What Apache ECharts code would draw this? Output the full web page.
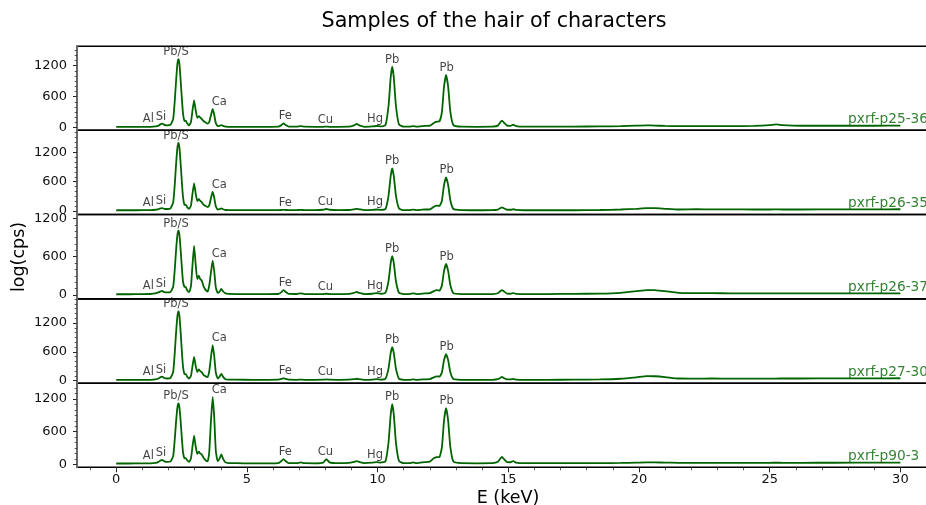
<!DOCTYPE html>
<html>
<head>
<meta charset="utf-8">
<script src="https://cdn.jsdelivr.net/npm/echarts@6/dist/echarts.min.js"></script>
<style>
  html, body { margin: 0; padding: 0; background: #fff; }
  #chart { width: 926px; height: 505px; }
</style>
</head>
<body>
<div id="chart"></div>
<script>
// Shared energy grid (keV) for all spectra
const energyKeV = [
  0.0, 0.5, 1.0, 1.3, 1.5, 1.62, 1.7, 1.76, 1.84, 1.95, 2.08, 2.18,
  2.24, 2.29, 2.34, 2.38, 2.42, 2.47, 2.52, 2.56,
  2.61, 2.66, 2.72, 2.79, 2.86, 2.92, 2.98, 3.04, 3.10, 3.16, 3.21, 3.27, 3.34, 3.42, 3.50,
  3.56, 3.62, 3.69, 3.75, 3.81, 3.88, 3.95, 4.02, 4.09, 4.18, 4.30,
  4.6, 5.2, 5.8, 6.2, 6.32, 6.40, 6.48, 6.6, 6.9, 7.06, 7.2, 7.6, 7.92, 8.04, 8.16, 8.5, 8.9, 9.1, 9.2, 9.3, 9.5,
  9.8, 9.97, 10.12, 10.3, 10.42, 10.5, 10.56, 10.62, 10.7, 10.82, 11.0,
  11.22, 11.36, 11.5, 11.8, 12.0, 12.15, 12.26, 12.37, 12.46, 12.54, 12.62, 12.70, 12.78, 12.9, 13.2,
  13.8, 14.4, 14.6, 14.7, 14.76, 14.83, 14.95, 15.08, 15.19, 15.3, 15.6, 16.5,
  17.5, 18.5, 19.3, 19.9, 20.3, 20.6, 21.0, 21.5, 22.2, 22.8, 23.5, 24.4, 25.0, 25.25, 25.5, 26.2, 27.5, 29.0, 30.0
];

const counts_p25_36 = [
  15, 15, 16, 18, 25, 40, 70, 80, 55, 45, 60, 170,
  520, 900, 1230, 1324, 1230, 880, 500, 260,
  130, 135, 80, 45, 110, 340, 530, 340, 190, 226, 200, 170, 130, 100, 80,
  110, 230, 362, 250, 90, 30, 35, 52, 35, 20, 18,
  18, 17, 17, 20, 50, 85, 55, 22, 20, 32, 20, 18, 18, 22, 18, 18, 20, 45, 72, 45, 18,
  25, 33, 25, 50, 430, 970, 1181, 970, 430, 60, 20,
  20, 32, 20, 35, 40, 90, 116, 125, 300, 790, 1020, 790, 320, 50, 20,
  18, 20, 40, 110, 135, 100, 40, 35, 58, 30, 20, 20,
  22, 25, 30, 40, 45, 42, 35, 30, 32, 30, 30, 35, 50, 66, 50, 38, 38, 38, 40
];

const counts_p26_35 = [
  15, 15, 16, 18, 25, 40, 55, 60, 45, 40, 55, 175,
  540, 950, 1290, 1394, 1290, 930, 520, 270,
  125, 130, 75, 45, 110, 360, 565, 360, 200, 245, 210, 180, 130, 100, 80,
  115, 250, 394, 270, 95, 30, 35, 55, 35, 20, 18,
  18, 17, 17, 18, 20, 24, 20, 18, 18, 22, 18, 18, 25, 40, 25, 18, 20, 35, 45, 35, 18,
  22, 30, 22, 40, 320, 715, 871, 715, 320, 50, 18,
  18, 28, 18, 30, 35, 85, 110, 105, 210, 530, 688, 530, 225, 40, 18,
  15, 18, 30, 60, 75, 55, 25, 25, 35, 22, 15, 15,
  15, 20, 30, 45, 60, 58, 45, 30, 35, 33, 32, 30, 30, 32, 30, 30, 32, 33, 35
];

const counts_p26_37 = [
  12, 12, 13, 16, 25, 40, 58, 63, 45, 40, 50, 130,
  400, 700, 940, 1008, 940, 680, 380, 200,
  130, 125, 70, 45, 140, 480, 768, 480, 250, 303, 250, 230, 140, 80, 52,
  150, 340, 538, 370, 120, 35, 50, 94, 55, 25, 18,
  15, 14, 14, 16, 45, 78, 50, 18, 16, 25, 15, 15, 16, 20, 16, 15, 18, 35, 47, 33, 15,
  20, 30, 20, 35, 225, 500, 611, 500, 220, 35, 15,
  15, 25, 15, 25, 30, 60, 75, 70, 150, 375, 486, 375, 160, 30, 15,
  13, 15, 28, 62, 78, 58, 22, 20, 30, 18, 13, 15,
  18, 22, 35, 60, 78, 76, 60, 35, 30, 28, 27, 25, 25, 27, 25, 25, 25, 26, 27
];

const counts_p27_30 = [
  15, 15, 16, 18, 28, 45, 75, 83, 55, 45, 60, 185,
  580, 1000, 1340, 1449, 1340, 970, 540, 270,
  140, 135, 80, 45, 100, 310, 497, 310, 180, 236, 200, 180, 120, 90, 75,
  200, 470, 739, 510, 170, 45, 80, 139, 80, 30, 22,
  20, 18, 18, 20, 35, 50, 35, 20, 18, 22, 18, 18, 20, 28, 20, 18, 20, 30, 40, 30, 18,
  22, 30, 22, 40, 260, 575, 698, 575, 255, 40, 18,
  18, 28, 18, 28, 33, 70, 90, 85, 170, 425, 553, 425, 180, 35, 18,
  16, 18, 30, 62, 77, 55, 25, 25, 35, 22, 16, 18,
  20, 25, 40, 70, 95, 92, 75, 45, 42, 45, 43, 42, 42, 44, 45, 45, 47, 48, 50
];

const counts_p90_3 = [
  15, 15, 16, 18, 25, 45, 72, 79, 55, 45, 55, 150,
  460, 780, 1040, 1119, 1040, 760, 420, 210,
  110, 115, 70, 45, 110, 330, 525, 330, 190, 231, 200, 185, 120, 75, 55,
  230, 760, 1240, 860, 250, 60, 100, 183, 100, 35, 22,
  20, 18, 18, 22, 60, 97, 60, 22, 20, 35, 20, 18, 30, 97, 35, 20, 25, 45, 60, 45, 22,
  30, 40, 30, 55, 410, 910, 1106, 910, 405, 60, 20,
  20, 35, 20, 40, 50, 110, 130, 135, 310, 800, 1033, 800, 330, 50, 20,
  18, 20, 45, 110, 134, 100, 40, 38, 60, 30, 20, 20,
  20, 22, 25, 30, 35, 35, 32, 28, 28, 28, 28, 28, 28, 29, 28, 28, 29, 30, 30
];

const sampleNames = ['pxrf-p25-36', 'pxrf-p26-35', 'pxrf-p26-37', 'pxrf-p27-30', 'pxrf-p90-3'];
const sampleCounts = [counts_p25_36, counts_p26_35, counts_p26_37, counts_p27_30, counts_p90_3];

// Element annotations: text, where the text sits, and the emission line it marks
const elementNames  = ['Al', 'Si', 'Pb/S', 'Ca', 'Fe', 'Cu', 'Hg', 'Pb', 'Pb'];
const elementTextE  = [1.23, 1.71, 2.29, 3.94, 6.47, 8.0, 9.9, 10.56, 12.64];
const elementLineE  = [1.49, 1.74, 2.38, 3.69, 6.40, 8.04, 9.97, 10.56, 12.62];

const xTickValues = [0, 5, 10, 15, 20, 25, 30];
const yTickValues = [0, 600, 1200];
const sampleNameE = 28;

// ---- layout ----
const FONT = 'DejaVu Sans';
const GREEN = '#006400';
const INK = '#111';
const X_MIN = -1.5, X_MAX = 31.5;
const panelTops = [46.3, 130.3, 214.5, 298.9, 383.3];
const panelHeights = [84, 84.2, 84.4, 84.4, 84];
const yRanges = [[-50, 1575], [-72, 1650], [-61, 1262], [-55, 1705], [-55, 1489]];

const xMinor = [];
for (let v = Math.ceil(X_MIN); v <= X_MAX; v += 1) xMinor.push(v);

function yMinorFor(range) {
  const out = [];
  for (let v = 0; v <= range[1]; v += 100) out.push(v);
  return out;
}

function peakNear(vals, e0) {
  let m = -Infinity;
  energyKeV.forEach((e, i) => { if (Math.abs(e - e0) <= 0.1) m = Math.max(m, vals[i]); });
  return m;
}

const plainNumber = v => String(v);
const grids = [], xAxes = [], yAxes = [], series = [];
const last = sampleNames.length - 1;

sampleNames.forEach((name, i) => {
  grids.push({
    left: 77, width: 862.6, top: panelTops[i], height: panelHeights[i],
    outerBoundsMode: 'none', containLabel: false,
    show: true, borderColor: '#000', borderWidth: 1.6, backgroundColor: 'transparent'
  });
  xAxes.push({
    type: 'value', gridIndex: i, min: X_MIN, max: X_MAX, position: 'bottom',
    axisLine: { show: false, onZero: false }, splitLine: { show: false },
    axisTick: { show: i === last, customValues: xTickValues, length: 5, lineStyle: { color: '#222', width: 1 } },
    axisLabel: { show: i === last, customValues: xTickValues, formatter: plainNumber, margin: 6, fontSize: 13, color: INK, fontFamily: FONT }
  });
  yAxes.push({
    type: 'value', gridIndex: i, min: yRanges[i][0], max: yRanges[i][1], position: 'left',
    axisLine: { show: true, onZero: false, lineStyle: { color: '#6a6a6a', width: 2 } },
    splitLine: { show: false },
    axisTick: { show: true, customValues: yTickValues, length: 4, lineStyle: { color: '#222', width: 1 } },
    axisLabel: { customValues: yTickValues, formatter: plainNumber, margin: 10, fontSize: 13, color: INK, fontFamily: FONT }
  });
  yAxes.push({
    type: 'value', gridIndex: i, min: yRanges[i][0], max: yRanges[i][1], position: 'left',
    axisLine: { show: false, onZero: false }, splitLine: { show: false },
    axisTick: { show: true, customValues: yMinorFor(yRanges[i]), length: 2.3, lineStyle: { color: '#333', width: 0.8 } },
    axisLabel: { show: false }
  });

  const vals = sampleCounts[i];
  series.push({
    type: 'line', xAxisIndex: i, yAxisIndex: 2 * i,
    data: energyKeV.map((e, k) => [e, vals[k]]),
    showSymbol: false, symbol: 'none', smooth: 0.15,
    lineStyle: { color: GREEN, width: 1.8 }, silent: true, z: 3
  });
  series.push({
    type: 'scatter', xAxisIndex: i, yAxisIndex: 2 * i, symbolSize: 0, silent: true, z: 4,
    data: elementNames.map((n, j) => ({ name: n, value: [elementTextE[j], peakNear(vals, elementLineE[j])] })),
    label: { show: true, position: 'top', distance: 1, formatter: '{b}', fontSize: 11.5, color: INK, fontFamily: FONT }
  });
  series.push({
    type: 'scatter', xAxisIndex: i, yAxisIndex: 2 * i, symbolSize: 0, silent: true, z: 4,
    data: [{ name: name, value: [sampleNameE, 0] }],
    label: { show: true, position: [0, 0], align: 'left', verticalAlign: 'bottom', offset: [0, -1],
             formatter: '{b}', fontSize: 13.7, color: GREEN, fontFamily: FONT }
  });
});

// minor ticks along the shared energy axis
xAxes.push({
  type: 'value', gridIndex: last, min: X_MIN, max: X_MAX, position: 'bottom', offset: 0,
  axisLine: { show: false, onZero: false }, splitLine: { show: false },
  axisTick: { show: true, customValues: xMinor, length: 3, lineStyle: { color: '#333', width: 0.8 } },
  axisLabel: { show: false }
});

const chart = echarts.init(document.getElementById('chart'), null, { renderer: 'canvas' });
chart.setOption({
  animation: false,
  backgroundColor: '#fff',
  grid: grids,
  xAxis: xAxes,
  yAxis: yAxes,
  series: series,
  graphic: [
    { type: 'text', x: 494, y: 22, style: { text: 'Samples of the hair of characters', font: '20.7px "DejaVu Sans"', fill: '#000', textAlign: 'center', textVerticalAlign: 'middle' } },
    { type: 'text', x: 19, y: 257, rotation: Math.PI / 2, style: { text: 'log(cps)', font: '17.5px "DejaVu Sans"', fill: '#000', textAlign: 'center', textVerticalAlign: 'middle' } },
    { type: 'text', x: 508, y: 498, style: { text: 'E (keV)', font: '17.5px "DejaVu Sans"', fill: '#000', textAlign: 'center', textVerticalAlign: 'middle' } }
  ]
});
</script>
</body>
</html>
